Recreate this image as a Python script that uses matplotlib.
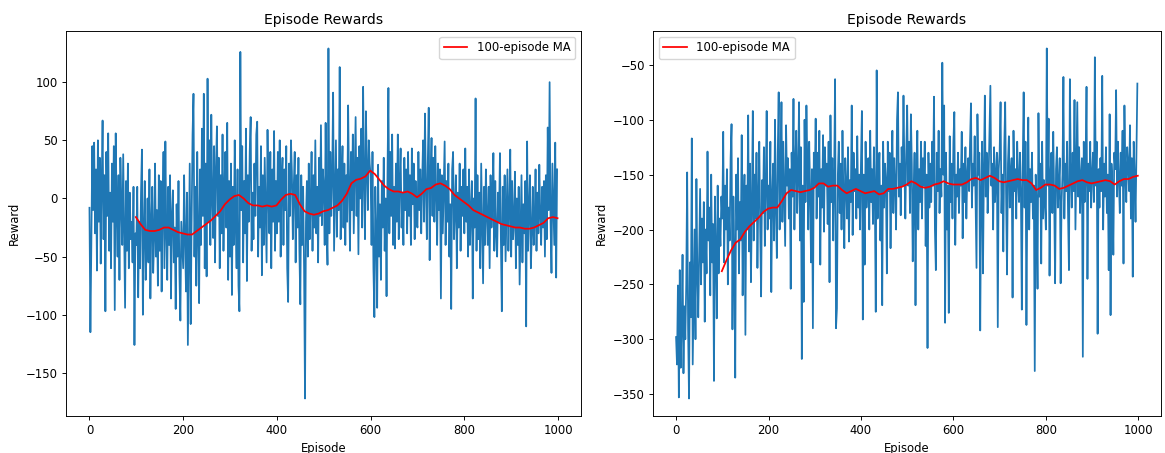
"""
Episode reward curves for two training runs, with 100-episode moving average.
"""

import numpy as np
import matplotlib
matplotlib.use("Agg")
import matplotlib.pyplot as plt


# -------------------------
# Data (one value every 2 episodes)
# -------------------------
EPISODE_STEP = 2

rewards_left = [
    -8, -115, -40, 45, -10, 48, -30, 25, -62, 50, -20, 35, -56, 10, 67, -35, 20, -97, 40, -15, 56, -45, 5, -60, 30,
    -20, 45, -96, 56, -10, -50, 20, -70, 35, -5, -40, 38, -25, -94, 15, -45, 30, -60, 5, -35, -20, -55, 10, -126, -30,
    -40, 10, -85, -20, -60, 5, 42, -100, -30, 15, -70, -45, 0, -55, 25, -86, -20, 10, -64, -35, 30, -50, -10, -75, 20,
    -45, 15, -80, -10, 40, -60, 49, -30, -70, 10, -40, 20, -86, -15, 7, -55, -25, -95, -5, -50, 15, -65, -105, -20, -40,
    -60, 20, -35, -80, 5, -126, -45, 30, -108, -20, 55, 90, -50, 10, -75, 40, -30, -90, 25, -40, 60, -15, 90, -60, 30,
    -67, 103, -20, 50, -40, 72, 0, -34, 45, -55, 25, 62, -15, 35, -60, 20, -30, 55, -45, 10, 40, -25, 65, -70, 15,
    -50, 30, -83, 10, -40, 50, -20, -60, 25, -75, -97, 126, -10, 45, -55, 15, -30, 60, -71, 20, -20, 40, 70, -45, 5,
    -35, 30, -15, 55, 66, -50, 10, -25, 45, -66, 20, -40, 35, -10, -55, 59, 0, -30, 40, -60, 25, -20, 58, -45, 15,
    -30, 40, -20, 50, -50, 15, 35, -40, 25, -10, 45, -60, -89, 30, -15, 50, 23, -35, 10, 40, -55, 20, -25, 35, -45,
    -91, 20, -40, 10, -60, -172, -20, 15, -50, 30, -35, -5, 40, -45, 20, -25, 50, -30, 10, -55, 35, -15, 63, -23, 25,
    10, -40, 65, -20, -57, 129, -30, 40, -15, 20, 91, -45, 0, 50, -33, 25, -10, 113, -35, 15, 45, -25, 30, -40, 20,
    -20, 80, 10, -45, 40, -10, 55, -30, 20, 70, -15, 35, -48, 45, 0, 60, -25, 96, 15, -35, 75, 25, -10, 50, 30,
    20, -40, 40, -60, -102, 10, -30, -94, 29, -50, -5, -70, 15, -25, 35, -45, 0, -84, 20, 95, -30, 40, -15, 55, -40,
    10, -43, 30, -20, 55, -35, 15, 43, -25, 5, -40, 35, -10, 25, -30, 40, -15, 20, -40, 43, -5, 30, -35, 15, -20,
    -25, 40, -10, 25, -30, 15, 50, -20, 73, 10, -35, 30, 78, -53, 20, 52, -15, 35, -20, 45, 5, -40, 30, -10, 25,
    -86, 20, -30, 10, 49, -40, 15, -20, 30, -50, -5, -95, 25, 40, -35, -10, 20, -60, 5, -25, 30, -45, 10, -15, 25,
    -30, 43, -20, 10, -50, 25, -40, -10, 15, -86, 0, -25, 86, -45, 20, -35, 5, -60, 30, -20, -73, 10, -40, 25, -15,
    -40, 10, -60, 20, -25, -5, 39, -45, 15, -30, -50, 5, -20, 39, -35, -97, 10, -40, 20, -54, -15, 25, -45, -10, 42,
    -50, 15, -35, -20, 23, -60, 0, -40, 10, -74, -25, 20, -55, -5, -30, 15, -110, 49, -45, -10, 20, -60, -30, 10, -40,
    -20, 25, -45, 5, -30, 29, -15, -40, 10, -25, 15, -50, 20, -35, 61, -10, 100, -20, -64, 30, -5, -40, 48, -68, 25,
]

rewards_right = [
    -298, -323, -251, -353, -237, -326, -290, -223, -331, -270, -300, -250, -148, -290, -354, -230, -280, -117, -323, -260, -200, -300, -154, -240, -280,
    -220, -163, -250, -190, -230, -175, -284, -200, -240, -129, -210, -180, -260, -150, -230, -195, -338, -170, -220, -281, -160, -240, -190, -215, -170,
    -190, -111, -230, -160, -200, -145, -250, -180, -210, -135, -104, -291, -170, -220, -335, -150, -200, -135, -240, -175, -210, -114, -260, -185, -150,
    -296, -160, -200, -96, -220, -140, -248, -180, -92, -210, -150, -190, -130, -235, -170, -120, -200, -261, -155, -185, -125, -215, -160, -92, -200,
    -160, -190, -120, -257, -170, -140, -210, -100, -180, -226, -130, -75, -200, -150, -84, -193, -120, -170, -215, -105, -160, -135, -190, -145, -254,
    -130, -170, -81, -200, -140, -110, -185, -150, -84, -210, -125, -318, -160, -266, -100, -175, -87, -140, -200, -120, -165, -230, -145, -290, -130,
    -160, -99, -190, -130, -170, -110, -232, -145, -180, -114, -202, -125, -160, -140, -195, -120, -248, -96, -175, -135, -210, -150, -63, -290, -272,
    -150, -120, -185, -140, -200, -110, -170, -217, -135, -160, -190, -125, -211, -155, -175, -87, -205, -130, -165, -145, -190, -115, -180, -150, -200,
    -140, -92, -282, -150, -232, -120, -180, -160, -135, -200, -110, -175, -145, -195, -125, -170, -275, -55, -190, -150, -130, -210, -160, -269, -120,
    -180, -140, -155, -240, -120, -165, -130, -217, -150, -110, -185, -135, -160, -200, -100, -75, -170, -140, -187, -125, -160, -78, -145, -190, -130,
    -87, -160, -120, -185, -95, -140, -229, -170, -130, -269, -150, -110, -200, -145, -175, -120, -190, -135, -160, -120, -215, -150, -308, -130, -180,
    -140, -175, -120, -160, -79, -200, -237, -130, -165, -110, -185, -145, -170, -48, -150, -87, -285, -130, -200, -160, -276, -115, -175, -140, -190,
    -120, -93, -214, -150, -170, -130, -185, -145, -160, -111, -208, -140, -175, -125, -190, -150, -135, -165, -120, -85, -180, -140, -160, -115, -175,
    -235, -95, -150, -130, -292, -165, -120, -240, -145, -78, -170, -130, -185, -155, -110, -69, -160, -140, -200, -125, -175, -150, -130, -289, -145,
    -130, -84, -185, -150, -220, -125, -84, -170, -241, -140, -115, -180, -150, -135, -262, -110, -165, -145, -190, -120, -155, -175, -130, -165, -273,
    -140, -75, -180, -120, -287, -160, -98, -200, -145, -175, -130, -190, -160, -329, -150, -180, -254, -94, -170, -140, -231, -120, -190, -155, -175,
    -200, -35, -160, -99, -242, -150, -130, -185, -111, -170, -249, -145, -125, -180, -160, -135, -249, -175, -150, -61, -190, -140, -165, -120, -185,
    -237, -63, -150, -180, -130, -165, -82, -200, -145, -84, -170, -125, -185, -150, -135, -316, -120, -175, -150, -70, -245, -140, -165, -120, -180,
    -150, -130, -175, -43, -160, -120, -295, -145, -180, -135, -165, -60, -200, -140, -170, -125, -185, -150, -237, -95, -278, -140, -160, -223, -130,
    -145, -73, -170, -120, -155, -185, -130, -160, -110, -231, -87, -150, -175, -125, -140, -165, -105, -190, -135, -243, -120, -150, -193, -130, -67,
]

# 100-episode moving average, read every 10 episodes from episode 99
MA_START, MA_STEP = 99, 10

ma_left = [
    -16, -22, -27, -28, -28, -27, -25, -25, -27, -29,
    -30, -31, -31, -28, -25, -22, -19, -15, -11, -5,
    -1, 2, 3, 0, -4, -6, -6, -7, -6, -7,
    -6, -1, 3, 4, 3, -5, -11, -13, -14, -13,
    -11, -10, -8, -6, -2, 4, 13, 16, 17, 19,
    24, 21, 16, 11, 8, 6, 6, 5, 6, 4,
    1, 4, 8, 9, 12, 13, 11, 8, 3, 0,
    -3, -6, -10, -12, -14, -16, -18, -20, -22, -23,
    -24, -25, -25, -26, -26, -25, -23, -21, -17, -16,
    -17,
]

ma_right = [
    -238, -228, -219, -212, -209, -202, -197, -193, -189, -184,
    -181, -180, -180, -174, -167, -164, -165, -166, -165, -164,
    -162, -158, -158, -161, -160, -160, -164, -167, -165, -163,
    -165, -167, -166, -165, -168, -167, -163, -163, -162, -161,
    -159, -156, -158, -161, -162, -161, -159, -158, -156, -158,
    -159, -159, -159, -157, -154, -153, -155, -153, -151, -153,
    -156, -157, -156, -155, -154, -155, -155, -158, -164, -162,
    -159, -159, -160, -163, -162, -160, -158, -156, -155, -157,
    -158, -157, -156, -155, -156, -159, -156, -154, -154, -152,
    -151,
]


# -------------------------
# Plot
# -------------------------
SCALE = 0.84  # reference looks like a downscaled 100-dpi figure
plt.rcParams.update({
    "font.size": 10 * SCALE,
    "axes.titlesize": 12 * SCALE,
    "axes.titlepad": 6 * SCALE,
    "axes.labelpad": 4 * SCALE,
    "axes.linewidth": 0.8 * SCALE,
    "xtick.major.size": 3.5 * SCALE,
    "ytick.major.size": 3.5 * SCALE,
    "xtick.major.width": 0.8 * SCALE,
    "ytick.major.width": 0.8 * SCALE,
    "xtick.major.pad": 3.5 * SCALE,
    "ytick.major.pad": 3.5 * SCALE,
    "lines.linewidth": 1.5 * SCALE,
})


def plot_rewards(ax, rewards, ma, legend_loc):
    ep = np.arange(len(rewards)) * EPISODE_STEP
    ep_ma = MA_START + np.arange(len(ma)) * MA_STEP
    ax.plot(ep, rewards, color="#1f77b4")
    ax.plot(ep_ma, ma, color="red", label="100-episode MA")
    ax.set_title("Episode Rewards")
    ax.set_xlabel("Episode")
    ax.set_ylabel("Reward")
    ax.legend(loc=legend_loc)


fig = plt.figure(figsize=(11.65, 4.53), dpi=100)
ax1 = fig.add_axes([0.0567, 0.0817, 0.442, 0.850])
ax2 = fig.add_axes([0.5605, 0.0817, 0.436, 0.850])

plot_rewards(ax1, rewards_left, ma_left, "upper right")
plot_rewards(ax2, rewards_right, ma_right, "upper left")

fig.savefig("out.png", dpi=100)
